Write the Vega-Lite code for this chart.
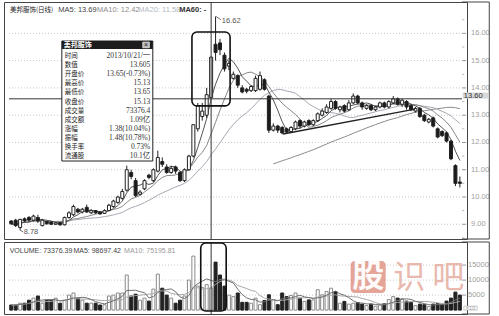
{
  "$schema": "https://vega.github.io/schema/vega-lite/v6.json",
  "padding": {"left": 3, "top": 1, "right": 0, "bottom": 0},
  "background": "white",
  "config": {
    "view": {"stroke": "#444", "strokeWidth": 1},
    "concat": {"spacing": 1},
    "font": "Liberation Sans"
  },
  "datasets": {
    "k": [
      {"i": 0, "o": 9.12, "h": 9.15, "l": 8.98, "c": 9.02, "v": 17000},
      {"i": 1, "o": 9.15, "h": 9.2, "l": 8.9, "c": 8.95, "v": 17000},
      {"i": 2, "o": 8.88, "h": 9.2, "l": 8.78, "c": 9.18, "v": 23000},
      {"i": 3, "o": 9.2, "h": 9.25, "l": 9.08, "c": 9.12, "v": 23000},
      {"i": 4, "o": 9.25, "h": 9.3, "l": 9.1, "c": 9.15, "v": 33000},
      {"i": 5, "o": 9.15, "h": 9.35, "l": 9.1, "c": 9.3, "v": 40000},
      {"i": 6, "o": 9.25, "h": 9.35, "l": 9.05, "c": 9.12, "v": 47000},
      {"i": 7, "o": 8.95, "h": 9.2, "l": 8.92, "c": 9.15, "v": 23000},
      {"i": 8, "o": 9.1, "h": 9.12, "l": 8.98, "c": 9.02, "v": 33000},
      {"i": 9, "o": 9.08, "h": 9.12, "l": 8.97, "c": 9.0, "v": 33000},
      {"i": 10, "o": 9.0, "h": 9.08, "l": 8.97, "c": 9.05, "v": 40000},
      {"i": 11, "o": 9.06, "h": 9.08, "l": 8.95, "c": 8.98, "v": 23000},
      {"i": 12, "o": 8.98, "h": 9.28, "l": 8.96, "c": 9.25, "v": 33000},
      {"i": 13, "o": 9.25, "h": 9.48, "l": 9.2, "c": 9.42, "v": 50000},
      {"i": 14, "o": 9.35, "h": 9.72, "l": 9.3, "c": 9.65, "v": 57000},
      {"i": 15, "o": 9.55, "h": 9.6, "l": 9.4, "c": 9.45, "v": 40000},
      {"i": 16, "o": 9.45, "h": 9.6, "l": 9.4, "c": 9.55, "v": 33000},
      {"i": 17, "o": 9.62, "h": 9.72, "l": 9.42, "c": 9.45, "v": 23000},
      {"i": 18, "o": 9.42, "h": 9.55, "l": 9.38, "c": 9.5, "v": 23000},
      {"i": 19, "o": 9.5, "h": 9.52, "l": 9.38, "c": 9.42, "v": 23000},
      {"i": 20, "o": 9.45, "h": 9.48, "l": 9.35, "c": 9.38, "v": 17000},
      {"i": 21, "o": 9.4, "h": 9.55, "l": 9.38, "c": 9.5, "v": 18000},
      {"i": 22, "o": 9.5, "h": 9.75, "l": 9.48, "c": 9.7, "v": 47000},
      {"i": 23, "o": 9.65, "h": 9.9, "l": 9.6, "c": 9.85, "v": 50000},
      {"i": 24, "o": 9.8, "h": 10.05, "l": 9.75, "c": 10.0, "v": 57000},
      {"i": 25, "o": 9.95, "h": 10.3, "l": 9.9, "c": 10.2, "v": 57000},
      {"i": 26, "o": 10.25, "h": 11.15, "l": 10.2, "c": 11.0, "v": 117000},
      {"i": 27, "o": 10.9, "h": 11.0, "l": 10.65, "c": 10.75, "v": 47000},
      {"i": 28, "o": 10.6, "h": 10.7, "l": 10.0, "c": 10.05, "v": 53000},
      {"i": 29, "o": 10.1, "h": 10.25, "l": 10.05, "c": 10.18, "v": 33000},
      {"i": 30, "o": 10.3, "h": 10.65, "l": 10.25, "c": 10.6, "v": 40000},
      {"i": 31, "o": 10.8, "h": 10.85, "l": 10.65, "c": 10.72, "v": 30000},
      {"i": 32, "o": 10.6, "h": 11.05, "l": 10.55, "c": 11.0, "v": 70000},
      {"i": 33, "o": 10.95, "h": 11.7, "l": 10.9, "c": 11.45, "v": 120000},
      {"i": 34, "o": 11.3, "h": 11.45, "l": 11.1, "c": 11.2, "v": 73000},
      {"i": 35, "o": 11.1, "h": 11.2, "l": 10.85, "c": 10.9, "v": 50000},
      {"i": 36, "o": 10.9, "h": 11.15, "l": 10.85, "c": 11.05, "v": 40000},
      {"i": 37, "o": 11.1, "h": 11.15, "l": 10.85, "c": 10.95, "v": 23000},
      {"i": 38, "o": 10.9, "h": 10.95, "l": 10.55, "c": 10.6, "v": 33000},
      {"i": 39, "o": 10.6, "h": 11.05, "l": 10.55, "c": 11.0, "v": 47000},
      {"i": 40, "o": 11.0, "h": 11.55, "l": 10.95, "c": 11.5, "v": 100000},
      {"i": 41, "o": 11.5, "h": 12.65, "l": 11.45, "c": 12.65, "v": 180000},
      {"i": 42, "o": 12.5, "h": 13.45, "l": 12.4, "c": 13.35, "v": 80000},
      {"i": 43, "o": 12.95, "h": 13.45, "l": 12.8, "c": 13.15, "v": 75000},
      {"i": 44, "o": 13.0, "h": 14.0, "l": 12.9, "c": 13.75, "v": 85000},
      {"i": 45, "o": 13.65, "h": 15.13, "l": 13.65, "c": 15.13, "v": 73376.39},
      {"i": 46, "o": 15.6, "h": 16.62, "l": 15.0, "c": 15.3, "v": 160000},
      {"i": 47, "o": 15.65, "h": 15.8, "l": 15.2, "c": 15.4, "v": 117000},
      {"i": 48, "o": 15.2, "h": 15.3, "l": 14.6, "c": 14.7, "v": 80000},
      {"i": 49, "o": 14.8, "h": 15.0, "l": 14.65, "c": 14.9, "v": 50000},
      {"i": 50, "o": 14.35, "h": 14.6, "l": 14.3, "c": 14.5, "v": 45000},
      {"i": 51, "o": 14.45, "h": 14.5, "l": 14.0, "c": 14.1, "v": 57000},
      {"i": 52, "o": 14.0, "h": 14.1, "l": 13.8, "c": 13.85, "v": 26000},
      {"i": 53, "o": 13.95, "h": 14.0, "l": 13.8, "c": 13.88, "v": 26000},
      {"i": 54, "o": 13.9, "h": 14.1, "l": 13.85, "c": 14.05, "v": 23000},
      {"i": 55, "o": 13.9, "h": 14.45, "l": 13.85, "c": 14.35, "v": 40000},
      {"i": 56, "o": 13.95, "h": 14.6, "l": 13.9, "c": 14.45, "v": 18000},
      {"i": 57, "o": 14.3, "h": 14.35, "l": 13.9, "c": 13.95, "v": 32000},
      {"i": 58, "o": 13.7, "h": 13.75, "l": 12.35, "c": 12.45, "v": 51000},
      {"i": 59, "o": 12.45, "h": 12.7, "l": 12.4, "c": 12.6, "v": 34000},
      {"i": 60, "o": 12.6, "h": 12.65, "l": 12.35, "c": 12.45, "v": 18000},
      {"i": 61, "o": 12.55, "h": 12.6, "l": 12.3, "c": 12.35, "v": 57000},
      {"i": 62, "o": 12.5, "h": 12.55, "l": 12.32, "c": 12.38, "v": 45000},
      {"i": 63, "o": 12.4, "h": 12.6, "l": 12.35, "c": 12.55, "v": 49000},
      {"i": 64, "o": 12.5, "h": 12.8, "l": 12.45, "c": 12.75, "v": 57000},
      {"i": 65, "o": 12.8, "h": 12.85, "l": 12.5, "c": 12.6, "v": 40000},
      {"i": 66, "o": 12.6, "h": 12.8, "l": 12.55, "c": 12.75, "v": 29000},
      {"i": 67, "o": 12.8, "h": 12.85, "l": 12.6, "c": 12.65, "v": 34000},
      {"i": 68, "o": 12.65, "h": 12.85, "l": 12.6, "c": 12.8, "v": 34000},
      {"i": 69, "o": 12.8, "h": 13.1, "l": 12.75, "c": 13.05, "v": 68000},
      {"i": 70, "o": 13.0, "h": 13.25, "l": 12.95, "c": 13.15, "v": 51000},
      {"i": 71, "o": 13.1, "h": 13.4, "l": 13.05, "c": 13.3, "v": 62000},
      {"i": 72, "o": 13.25, "h": 13.6, "l": 13.2, "c": 13.5, "v": 73000},
      {"i": 73, "o": 13.5, "h": 13.55, "l": 13.2, "c": 13.25, "v": 62000},
      {"i": 74, "o": 13.2, "h": 13.35, "l": 13.1, "c": 13.3, "v": 23000},
      {"i": 75, "o": 13.35, "h": 13.4, "l": 13.1, "c": 13.15, "v": 29000},
      {"i": 76, "o": 13.2, "h": 13.55, "l": 13.15, "c": 13.45, "v": 20000},
      {"i": 77, "o": 13.45, "h": 13.8, "l": 13.4, "c": 13.7, "v": 23000},
      {"i": 78, "o": 13.7, "h": 13.75, "l": 13.4, "c": 13.45, "v": 25000},
      {"i": 79, "o": 13.45, "h": 13.5, "l": 13.2, "c": 13.3, "v": 20000},
      {"i": 80, "o": 13.25, "h": 13.4, "l": 13.2, "c": 13.35, "v": 15000},
      {"i": 81, "o": 13.35, "h": 13.4, "l": 13.15, "c": 13.2, "v": 20000},
      {"i": 82, "o": 13.2, "h": 13.35, "l": 13.15, "c": 13.3, "v": 13000},
      {"i": 83, "o": 13.3, "h": 13.5, "l": 13.25, "c": 13.45, "v": 18000},
      {"i": 84, "o": 13.45, "h": 13.5, "l": 13.25, "c": 13.3, "v": 22000},
      {"i": 85, "o": 13.3, "h": 13.55, "l": 13.25, "c": 13.5, "v": 35000},
      {"i": 86, "o": 13.45, "h": 13.7, "l": 13.4, "c": 13.6, "v": 45000},
      {"i": 87, "o": 13.6, "h": 13.65, "l": 13.35, "c": 13.4, "v": 40000},
      {"i": 88, "o": 13.4, "h": 13.6, "l": 13.3, "c": 13.55, "v": 38000},
      {"i": 89, "o": 13.5, "h": 13.55, "l": 13.2, "c": 13.3, "v": 30000},
      {"i": 90, "o": 13.35, "h": 13.4, "l": 13.15, "c": 13.2, "v": 25000},
      {"i": 91, "o": 13.15, "h": 13.3, "l": 13.1, "c": 13.25, "v": 15000},
      {"i": 92, "o": 13.25, "h": 13.3, "l": 12.9, "c": 12.95, "v": 20000},
      {"i": 93, "o": 13.0, "h": 13.05, "l": 12.75, "c": 12.8, "v": 18000},
      {"i": 94, "o": 12.75, "h": 12.9, "l": 12.7, "c": 12.85, "v": 12000},
      {"i": 95, "o": 12.9, "h": 12.95, "l": 12.55, "c": 12.6, "v": 20000},
      {"i": 96, "o": 12.5, "h": 12.55, "l": 12.15, "c": 12.2, "v": 22000},
      {"i": 97, "o": 12.4, "h": 12.45, "l": 12.2, "c": 12.25, "v": 18000},
      {"i": 98, "o": 12.35, "h": 12.4, "l": 12.0, "c": 12.05, "v": 30000},
      {"i": 99, "o": 12.05, "h": 12.1, "l": 11.35, "c": 11.4, "v": 40000},
      {"i": 100, "o": 11.15, "h": 11.2, "l": 10.4, "c": 10.5, "v": 60000},
      {"i": 101, "o": 10.55, "h": 10.75, "l": 10.35, "c": 10.5, "v": 50000}
    ],
    "priceTicks": [{"p": 9}, {"p": 10}, {"p": 11}, {"p": 12}, {"p": 13}, {"p": 14}, {"p": 15}, {"p": 16}],
    "priceMinor": [{"p": 8.5}, {"p": 9.5}, {"p": 10.5}, {"p": 11.5}, {"p": 12.5}, {"p": 13.5}, {"p": 14.5}, {"p": 15.5}, {"p": 16.5}],
    "volTicks": [{"q": 50000, "t": "5000"}, {"q": 100000, "t": "10000"}, {"q": 150000, "t": "15000"}]
  },
  "vconcat": [
    {
      "width": 463,
      "height": 237,
      "data": {"name": "k"},
      "layer": [
        {
          "data": {"name": "priceTicks"},
          "mark": {"type": "rule", "color": "#c8c8c8", "strokeDash": [1, 2], "strokeWidth": 1},
          "encoding": {
            "x": {"datum": -0.507, "type": "quantitative", "scale": {"domain": [-0.507, 101.48], "nice": false, "zero": false}, "axis": null},
            "x2": {"datum": 101.48},
            "y": {"field": "p", "type": "quantitative", "title": null, "scale": {"domain": [8.46, 17.15], "nice": false, "zero": false}, "axis": null}
          }
        },
        {
          "data": {"name": "priceTicks"},
          "mark": {"type": "rule", "color": "#999", "strokeWidth": 1},
          "encoding": {
            "x": {"datum": 101.48, "type": "quantitative", "axis": null},
            "x2": {"datum": 102.4},
            "y": {"field": "p", "type": "quantitative", "axis": null, "title": null}
          }
        },
        {
          "data": {"name": "priceMinor"},
          "mark": {"type": "rule", "color": "#bbb", "strokeWidth": 1},
          "encoding": {
            "x": {"datum": 101.48, "type": "quantitative", "axis": null},
            "x2": {"datum": 102.0},
            "y": {"field": "p", "type": "quantitative", "axis": null, "title": null}
          }
        },
        {
          "data": {"name": "priceTicks"},
          "mark": {"type": "text", "align": "left", "baseline": "middle", "dx": 9, "fontSize": 7.5, "color": "#a0a0a0"},
          "encoding": {
            "x": {"datum": 101.48, "type": "quantitative", "axis": null},
            "y": {"field": "p", "type": "quantitative", "axis": null, "title": null},
            "text": {"field": "p", "type": "quantitative", "format": ".2f"}
          }
        },
        {
          "data": {"values": [{}]},
          "mark": {"type": "rule", "color": "#444", "strokeWidth": 1},
          "encoding": {"x": {"datum": 107.62, "type": "quantitative", "axis": null}}
        },
        {
          "data": {"values": [{"p": 17.15}, {"p": 8.46}]},
          "mark": {"type": "rule", "color": "#444", "strokeWidth": 1},
          "encoding": {
            "x": {"datum": 101.48, "type": "quantitative", "axis": null},
            "x2": {"datum": 107.62},
            "y": {"field": "p", "type": "quantitative", "axis": null, "title": null}
          }
        },
        {
          "transform": [
            {"window": [{"op": "mean", "field": "c", "as": "m"}, {"op": "count", "as": "n"}], "frame": [-59, 0], "sort": [{"field": "i"}]},
            {"filter": "datum.n >= 60"}
          ],
          "mark": {"type": "line", "color": "#8a8a8a", "strokeWidth": 1},
          "encoding": {"x": {"field": "i", "type": "quantitative", "axis": null}, "y": {"field": "m", "type": "quantitative", "axis": null, "title": null}}
        },
        {
          "transform": [{"window": [{"op": "mean", "field": "c", "as": "m"}], "frame": [-19, 0], "sort": [{"field": "i"}]}],
          "mark": {"type": "line", "color": "#a8a8b4", "strokeWidth": 1},
          "encoding": {"x": {"field": "i", "type": "quantitative", "axis": null}, "y": {"field": "m", "type": "quantitative", "axis": null, "title": null}}
        },
        {
          "transform": [{"window": [{"op": "mean", "field": "c", "as": "m"}], "frame": [-9, 0], "sort": [{"field": "i"}]}],
          "mark": {"type": "line", "color": "#888", "strokeWidth": 1},
          "encoding": {"x": {"field": "i", "type": "quantitative", "axis": null}, "y": {"field": "m", "type": "quantitative", "axis": null, "title": null}}
        },
        {
          "transform": [{"window": [{"op": "mean", "field": "c", "as": "m"}], "frame": [-4, 0], "sort": [{"field": "i"}]}],
          "mark": {"type": "line", "color": "#555", "strokeWidth": 1},
          "encoding": {"x": {"field": "i", "type": "quantitative", "axis": null}, "y": {"field": "m", "type": "quantitative", "axis": null, "title": null}}
        },
        {
          "mark": {"type": "rule", "color": "#222", "strokeWidth": 1},
          "encoding": {
            "x": {"field": "i", "type": "quantitative", "axis": null},
            "y": {"field": "l", "type": "quantitative", "axis": null, "title": null},
            "y2": {"field": "h"}
          }
        },
        {
          "mark": {"type": "bar", "width": 3, "strokeWidth": 1},
          "encoding": {
            "x": {"field": "i", "type": "quantitative", "axis": null},
            "y": {"field": "o", "type": "quantitative", "axis": null, "title": null},
            "y2": {"field": "c"},
            "fill": {"condition": {"test": "datum.c >= datum.o", "value": "white"}, "value": "#1a1a1a"},
            "stroke": {"value": "#222"}
          }
        },
        {
          "data": {"values": [{"i": 61.2, "p": 12.31}, {"i": 90.9, "p": 13.22}]},
          "mark": {"type": "line", "color": "#222", "strokeWidth": 1.3},
          "encoding": {"x": {"field": "i", "type": "quantitative", "axis": null}, "y": {"field": "p", "type": "quantitative", "axis": null, "title": null}}
        },
        {
          "data": {"values": [{}]},
          "mark": {"type": "rule", "color": "#333", "strokeWidth": 1},
          "encoding": {"x": {"datum": 45, "type": "quantitative", "axis": null}}
        },
        {
          "data": {"values": [{}]},
          "mark": {"type": "rule", "color": "#333", "strokeWidth": 1},
          "encoding": {
            "x": {"datum": -0.507, "type": "quantitative", "axis": null},
            "x2": {"datum": 101.48},
            "y": {"datum": 13.6, "type": "quantitative", "axis": null}
          }
        },
        {
          "data": {"values": [{}]},
          "mark": {"type": "rect", "fill": null, "fillOpacity": 0, "stroke": "#111", "strokeWidth": 1.6, "cornerRadius": 5},
          "encoding": {
            "x": {"datum": 40.68, "type": "quantitative", "axis": null},
            "x2": {"datum": 49.27},
            "y": {"datum": 16.05, "type": "quantitative", "axis": null},
            "y2": {"datum": 13.34}
          }
        },
        {
          "data": {"values": [{}]},
          "mark": {"type": "rule", "color": "#555", "strokeWidth": 0.8},
          "encoding": {
            "x": {"datum": 46.1, "type": "quantitative", "axis": null},
            "x2": {"datum": 47.2},
            "y": {"datum": 16.62, "type": "quantitative", "axis": null},
            "y2": {"datum": 16.5}
          }
        },
        {
          "data": {"values": [{}]},
          "mark": {"type": "text", "text": "16.62", "align": "left", "baseline": "middle", "fontSize": 7.5, "color": "#555"},
          "encoding": {"x": {"datum": 47.4, "type": "quantitative", "axis": null}, "y": {"datum": 16.46, "type": "quantitative", "axis": null}}
        },
        {
          "data": {"values": [{}]},
          "mark": {"type": "rule", "color": "#555", "strokeWidth": 0.8},
          "encoding": {
            "x": {"datum": 2.0, "type": "quantitative", "axis": null},
            "x2": {"datum": 2.7},
            "y": {"datum": 8.78, "type": "quantitative", "axis": null},
            "y2": {"datum": 8.72}
          }
        },
        {
          "data": {"values": [{}]},
          "mark": {"type": "text", "text": "8.78", "align": "left", "baseline": "middle", "fontSize": 7.5, "color": "#555"},
          "encoding": {"x": {"datum": 2.8, "type": "quantitative", "axis": null}, "y": {"datum": 8.717, "type": "quantitative", "axis": null}}
        },
        {
          "data": {"values": [{}]},
          "mark": {"type": "rect", "fill": "white", "stroke": "#222", "strokeWidth": 1},
          "encoding": {
            "x": {"datum": 11.39, "type": "quantitative", "axis": null},
            "x2": {"datum": 31.87},
            "y": {"datum": 15.72, "type": "quantitative", "axis": null},
            "y2": {"datum": 11.32}
          }
        },
        {
          "data": {"values": [{}]},
          "mark": {"type": "rect", "fill": "#1c1c1c"},
          "encoding": {
            "x": {"datum": 11.39, "type": "quantitative", "axis": null},
            "x2": {"datum": 31.87},
            "y": {"datum": 15.72, "type": "quantitative", "axis": null},
            "y2": {"datum": 15.43}
          }
        },
        {
          "data": {"values": [{}]},
          "mark": {"type": "text", "text": "美邦服饰", "align": "left", "baseline": "middle", "fontSize": 7, "fontWeight": "bold", "font": "Noto Sans CJK SC", "color": "white"},
          "encoding": {"x": {"datum": 11.8, "type": "quantitative", "axis": null}, "y": {"datum": 15.575, "type": "quantitative", "axis": null}}
        },
        {
          "data": {"values": [{}]},
          "mark": {"type": "rect", "fill": "#bbb", "stroke": "white", "strokeWidth": 0.6},
          "encoding": {
            "x": {"datum": 29.6, "type": "quantitative", "axis": null},
            "x2": {"datum": 31.1},
            "y": {"datum": 15.68, "type": "quantitative", "axis": null},
            "y2": {"datum": 15.47}
          }
        },
        {
          "data": {"values": [{}]},
          "mark": {"type": "text", "text": "×", "align": "center", "baseline": "middle", "fontSize": 7, "color": "#222"},
          "encoding": {"x": {"datum": 30.35, "type": "quantitative", "axis": null}, "y": {"datum": 15.575, "type": "quantitative", "axis": null}}
        },
        {
          "data": {"values": [{}]},
          "mark": {
            "type": "text",
            "text": ["　　时间", "　　数值", "开盘价", "最高价", "最低价", "收盘价", "成交量", "成交额", "　　涨幅", "　　振幅", "换手率", "流通股"],
            "align": "left", "baseline": "middle", "fontSize": 6.5, "lineHeight": 9.1, "font": "Noto Sans CJK SC", "color": "#222"
          },
          "encoding": {"x": {"datum": 12.05, "type": "quantitative", "axis": null}, "y": {"datum": 15.17, "type": "quantitative", "axis": null}}
        },
        {
          "data": {"values": [{}]},
          "mark": {
            "type": "text",
            "text": ["2013/10/21/一", "13.605", "13.65(-0.73%)", "15.13", "13.65", "15.13", "73376.4", "1.09亿", "1.38(10.04%)", "1.48(10.78%)", "0.73%", "10.1亿"],
            "align": "right", "baseline": "middle", "fontSize": 7.5, "lineHeight": 9.1, "font": "Liberation Serif, Noto Sans CJK SC", "color": "#333"
          },
          "encoding": {"x": {"datum": 31.3, "type": "quantitative", "axis": null}, "y": {"datum": 15.17, "type": "quantitative", "axis": null}}
        },
        {
          "data": {"values": [{}]},
          "mark": {"type": "rect", "fill": "#d8d8d8"},
          "encoding": {
            "x": {"datum": 101.6, "type": "quantitative", "axis": null},
            "x2": {"datum": 107.4},
            "y": {"datum": 13.83, "type": "quantitative", "axis": null},
            "y2": {"datum": 13.61}
          }
        },
        {
          "data": {"values": [{}]},
          "mark": {"type": "text", "text": "13.60", "align": "left", "baseline": "middle", "fontSize": 7.5, "color": "#333"},
          "encoding": {"x": {"datum": 101.9, "type": "quantitative", "axis": null}, "y": {"datum": 13.72, "type": "quantitative", "axis": null}}
        },
        {
          "data": {"values": [{}]},
          "mark": {"type": "text", "text": "美邦服饰(日线)", "align": "left", "baseline": "middle", "fontSize": 6.5, "font": "Noto Sans CJK SC", "color": "#222"},
          "encoding": {"x": {"datum": -0.3, "type": "quantitative", "axis": null}, "y": {"datum": 16.86, "type": "quantitative", "axis": null}}
        },
        {
          "data": {"values": [{}]},
          "mark": {"type": "text", "text": "MA5: 13.69", "align": "left", "baseline": "middle", "fontSize": 7.5, "color": "#444"},
          "encoding": {"x": {"datum": 10.6, "type": "quantitative", "axis": null}, "y": {"datum": 16.86, "type": "quantitative", "axis": null}}
        },
        {
          "data": {"values": [{}]},
          "mark": {"type": "text", "text": "MA10: 12.42", "align": "left", "baseline": "middle", "fontSize": 7.5, "color": "#8c8c8c"},
          "encoding": {"x": {"datum": 19.3, "type": "quantitative", "axis": null}, "y": {"datum": 16.86, "type": "quantitative", "axis": null}}
        },
        {
          "data": {"values": [{}]},
          "mark": {"type": "text", "text": "MA20: 11.58", "align": "left", "baseline": "middle", "fontSize": 7.5, "color": "#b4b8c4"},
          "encoding": {"x": {"datum": 28.6, "type": "quantitative", "axis": null}, "y": {"datum": 16.86, "type": "quantitative", "axis": null}}
        },
        {
          "data": {"values": [{}]},
          "mark": {"type": "text", "text": "MA60: -", "align": "left", "baseline": "middle", "fontSize": 7.5, "fontWeight": "bold", "color": "#333"},
          "encoding": {"x": {"datum": 37.8, "type": "quantitative", "axis": null}, "y": {"datum": 16.86, "type": "quantitative", "axis": null}}
        }
      ]
    },
    {
      "width": 463,
      "height": 72,
      "data": {"name": "k"},
      "layer": [
        {
          "data": {"name": "volTicks"},
          "mark": {"type": "rule", "color": "#c8c8c8", "strokeDash": [1, 2], "strokeWidth": 1},
          "encoding": {
            "x": {"datum": -0.507, "type": "quantitative", "scale": {"domain": [-0.507, 101.48], "nice": false, "zero": false}, "axis": null},
            "x2": {"datum": 101.48},
            "y": {"field": "q", "type": "quantitative", "title": null, "scale": {"domain": [-13000, 227000], "nice": false, "zero": false}, "axis": null}
          }
        },
        {
          "data": {"name": "volTicks"},
          "mark": {"type": "rule", "color": "#999", "strokeWidth": 1},
          "encoding": {
            "x": {"datum": 101.48, "type": "quantitative", "axis": null},
            "x2": {"datum": 102.4},
            "y": {"field": "q", "type": "quantitative", "axis": null, "title": null}
          }
        },
        {
          "data": {"name": "volTicks"},
          "mark": {"type": "text", "align": "left", "baseline": "middle", "dx": 6, "fontSize": 7.5, "color": "#a0a0a0"},
          "encoding": {
            "x": {"datum": 101.48, "type": "quantitative", "axis": null},
            "y": {"field": "q", "type": "quantitative", "axis": null, "title": null},
            "text": {"field": "t", "type": "nominal"}
          }
        },
        {
          "data": {"values": [{}]},
          "mark": {"type": "rule", "color": "#444", "strokeWidth": 1},
          "encoding": {"x": {"datum": 107.62, "type": "quantitative", "axis": null}}
        },
        {
          "data": {"values": [{"q": 227000}, {"q": -13000}]},
          "mark": {"type": "rule", "color": "#444", "strokeWidth": 1},
          "encoding": {
            "x": {"datum": 101.48, "type": "quantitative", "axis": null},
            "x2": {"datum": 107.62},
            "y": {"field": "q", "type": "quantitative", "axis": null, "title": null}
          }
        },
        {
          "mark": {"type": "bar", "width": 3, "strokeWidth": 1},
          "encoding": {
            "x": {"field": "i", "type": "quantitative", "axis": null},
            "y": {"field": "v", "type": "quantitative", "axis": null, "title": null},
            "y2": {"datum": 0},
            "fill": {"condition": {"test": "datum.c >= datum.o", "value": "white"}, "value": "#222"},
            "stroke": {"condition": {"test": "datum.c >= datum.o", "value": "#8a8a8a"}, "value": "#222"}
          }
        },
        {
          "transform": [{"window": [{"op": "mean", "field": "v", "as": "m"}], "frame": [-9, 0], "sort": [{"field": "i"}]}],
          "mark": {"type": "line", "color": "#a8a8a8", "strokeWidth": 1},
          "encoding": {"x": {"field": "i", "type": "quantitative", "axis": null}, "y": {"field": "m", "type": "quantitative", "axis": null, "title": null}}
        },
        {
          "transform": [{"window": [{"op": "mean", "field": "v", "as": "m"}], "frame": [-4, 0], "sort": [{"field": "i"}]}],
          "mark": {"type": "line", "color": "#707070", "strokeWidth": 1},
          "encoding": {"x": {"field": "i", "type": "quantitative", "axis": null}, "y": {"field": "m", "type": "quantitative", "axis": null, "title": null}}
        },
        {
          "data": {"values": [{}]},
          "mark": {"type": "rule", "color": "#333", "strokeWidth": 1},
          "encoding": {"x": {"datum": 45, "type": "quantitative", "axis": null}}
        },
        {
          "data": {"values": [{}]},
          "mark": {"type": "rect", "fill": null, "fillOpacity": 0, "stroke": "#111", "strokeWidth": 1.6, "cornerRadius": 5},
          "encoding": {
            "x": {"datum": 42.66, "type": "quantitative", "axis": null},
            "x2": {"datum": 48.39},
            "y": {"datum": 223700, "type": "quantitative", "axis": null},
            "y2": {"datum": -3000}
          }
        },
        {
          "data": {"values": [{}]},
          "mark": {"type": "rect", "fill": "#dd8f7e", "opacity": 0.8, "cornerRadius": 4},
          "encoding": {
            "x": {"datum": 76.4, "type": "quantitative", "axis": null},
            "x2": {"datum": 84.3},
            "y": {"datum": 163700, "type": "quantitative", "axis": null},
            "y2": {"datum": 57000}
          }
        },
        {
          "data": {"values": [{}]},
          "mark": {"type": "text", "text": "股", "align": "center", "baseline": "middle", "fontSize": 32, "font": "Noto Sans CJK SC", "fontWeight": "bold", "color": "white", "opacity": 0.95},
          "encoding": {"x": {"datum": 80.35, "type": "quantitative", "axis": null}, "y": {"datum": 110000, "type": "quantitative", "axis": null}}
        },
        {
          "data": {"values": [{}]},
          "mark": {"type": "text", "text": "识", "align": "center", "baseline": "middle", "fontSize": 32, "font": "Noto Sans CJK SC", "color": "#e6ada1", "opacity": 0.85},
          "encoding": {"x": {"datum": 89.6, "type": "quantitative", "axis": null}, "y": {"datum": 106000, "type": "quantitative", "axis": null}}
        },
        {
          "data": {"values": [{}]},
          "mark": {"type": "text", "text": "吧", "align": "center", "baseline": "middle", "fontSize": 32, "font": "Noto Sans CJK SC", "color": "#e6ada1", "opacity": 0.85},
          "encoding": {"x": {"datum": 98.4, "type": "quantitative", "axis": null}, "y": {"datum": 106000, "type": "quantitative", "axis": null}}
        },
        {
          "data": {"values": [{}]},
          "mark": {"type": "text", "text": "VOLUME: 73376.39", "align": "left", "baseline": "middle", "fontSize": 7, "color": "#444"},
          "encoding": {"x": {"datum": -0.35, "type": "quantitative", "axis": null}, "y": {"datum": 197000, "type": "quantitative", "axis": null}}
        },
        {
          "data": {"values": [{}]},
          "mark": {"type": "text", "text": "MA5: 98697.42", "align": "left", "baseline": "middle", "fontSize": 7, "color": "#444"},
          "encoding": {"x": {"datum": 14.0, "type": "quantitative", "axis": null}, "y": {"datum": 197000, "type": "quantitative", "axis": null}}
        },
        {
          "data": {"values": [{}]},
          "mark": {"type": "text", "text": "MA10: 75195.81", "align": "left", "baseline": "middle", "fontSize": 7, "color": "#999"},
          "encoding": {"x": {"datum": 25.4, "type": "quantitative", "axis": null}, "y": {"datum": 197000, "type": "quantitative", "axis": null}}
        },
        {
          "data": {"values": [{}]},
          "mark": {"type": "rect", "fill": "white", "stroke": "#aaa", "strokeWidth": 0.6},
          "encoding": {
            "x": {"datum": 101.9, "type": "quantitative", "axis": null},
            "x2": {"datum": 104.9},
            "y": {"datum": 13000, "type": "quantitative", "axis": null},
            "y2": {"datum": 0}
          }
        },
        {
          "data": {"values": [{}]},
          "mark": {"type": "text", "text": "×10", "align": "center", "baseline": "middle", "fontSize": 5.5, "color": "#999"},
          "encoding": {"x": {"datum": 103.4, "type": "quantitative", "axis": null}, "y": {"datum": 6500, "type": "quantitative", "axis": null}}
        }
      ]
    }
  ]
}
